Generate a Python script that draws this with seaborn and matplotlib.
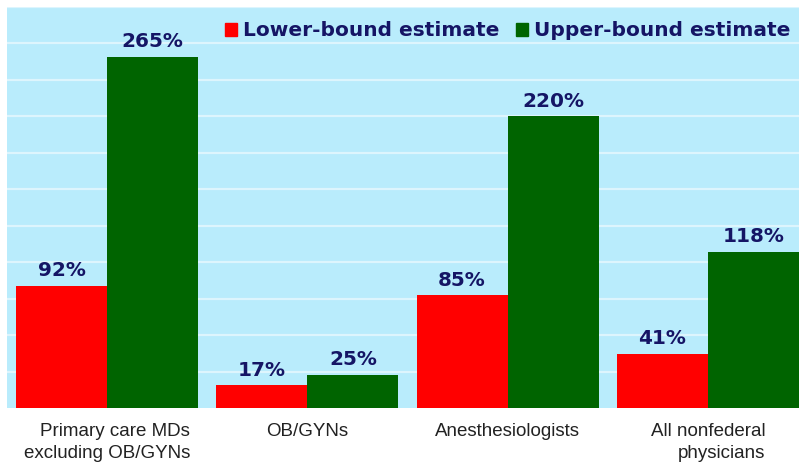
import pandas as pd
import seaborn as sns
import matplotlib.pyplot as plt

categories = ["Primary care MDs\nexcluding OB/GYNs", "OB/GYNs",
              "Anesthesiologists", "All nonfederal\nphysicians"]
series = ["Lower-bound estimate", "Upper-bound estimate"]
lower = [92, 17, 85, 41]
upper = [265, 25, 220, 118]

df = pd.DataFrame({
    "group": categories * 2,
    "series": [series[0]] * 4 + [series[1]] * 4,
    "value": lower + upper,
})

BG = "#B9ECFC"
GRID = "#DDF5FD"
NAVY = "#151565"
colors = ["#FF0000", "#006400"]

sns.set_style("white")
plt.rcParams['font.family'] = ['DejaVu Sans']

fig = plt.figure(figsize=(7.99, 4.71), dpi=100)
# axes runs a little past the right edge, like the original
ax = fig.add_axes([7 / 799, 63 / 471, 801 / 799, 401 / 471])
ax.set_facecolor(BG)

sns.barplot(data=df, x="group", y="value", hue="series", palette=colors,
            width=0.91, saturation=1, linewidth=0, ax=ax)

ax.set_ylim(0, 302.5)
ax.set_xlim(-0.5, 3.5)
ax.set_yticks([27.5 * i for i in range(1, 12)])
ax.set_yticklabels([])
ax.tick_params(axis='y', length=0)
ax.tick_params(axis='x', length=0, pad=11)
ax.yaxis.grid(True, color=GRID, linewidth=1.6)
ax.set_axisbelow(True)
for s in ax.spines.values():
    s.set_visible(False)
ax.set_xlabel("")
ax.set_ylabel("")

for lbl in ax.get_xticklabels():
    lbl.set_fontfamily("Liberation Sans")
    lbl.set_fontsize(13.5)
    lbl.set_color("#222222")
    lbl.set_multialignment("right")
    lbl.set_linespacing(1.35)

for cont in ax.containers:
    ax.bar_label(cont, fmt="%d%%", padding=4, color=NAVY,
                 fontsize=14.4, fontweight="bold")

handles = [plt.Rectangle((0, 0), 1, 1, color=c) for c in colors]
leg = ax.legend(handles, series, loc="center left",
                bbox_to_anchor=(211 / 799, 1 - 31 / 471),
                bbox_transform=fig.transFigure, ncol=2, frameon=False,
                handlelength=0.6, handleheight=0.6, handletextpad=0.3,
                columnspacing=0.8, borderpad=0.2,
                prop={"size": 14.5, "weight": "bold"})
for t in leg.get_texts():
    t.set_color(NAVY)

fig.savefig("out.png", dpi=100)
